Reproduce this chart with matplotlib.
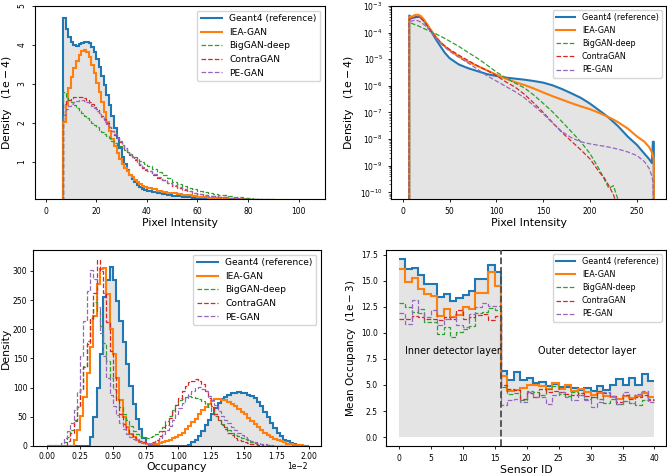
import numpy as np
import matplotlib
matplotlib.use('Agg')
from matplotlib import pyplot as plt
from matplotlib.lines import Line2D
from matplotlib.ticker import FuncFormatter

names = ['Geant4 (reference)', 'IEA-GAN', 'BigGAN-deep', 'ContraGAN', 'PE-GAN']

# ---- pixel intensity, linear (bins 7..40 width 1, then 40..100 width 2)
px_edges = np.r_[np.arange(7, 41), np.arange(42, 101, 2)]
px_geant = [4.69, 4.42, 4.21, 4.08, 4.00, 3.98, 4.02, 4.06, 4.08, 4.08, 4.04, 3.95, 3.82, 3.65, 3.44, 3.21, 2.97,
            2.72, 2.46, 2.17, 1.88, 1.61, 1.36, 1.14, 0.96, 0.80, 0.68, 0.57, 0.49, 0.42, 0.36, 0.32, 0.29,
            0.26, 0.23, 0.20, 0.175, 0.155, 0.135, 0.12, 0.105, 0.095, 0.085, 0.076, 0.068, 0.061, 0.055, 0.05,
            0.045, 0.041, 0.037, 0.033, 0.03, 0.027, 0.024, 0.021, 0.019, 0.017, 0.015, 0.013, 0.012, 0.011, 0.01]
px_iea = [2.02, 2.46, 2.89, 3.19, 3.40, 3.59, 3.74, 3.84, 3.88, 3.83, 3.70, 3.49, 3.27, 3.02, 2.79, 2.53, 2.29,
          2.04, 1.80, 1.60, 1.40, 1.23, 1.09, 0.96, 0.85, 0.76, 0.68, 0.61, 0.54, 0.49, 0.44, 0.40, 0.36,
          0.33, 0.30, 0.27, 0.245, 0.22, 0.20, 0.18, 0.16, 0.145, 0.13, 0.115, 0.10, 0.09, 0.08, 0.072,
          0.065, 0.058, 0.052, 0.047, 0.042, 0.038, 0.034, 0.03, 0.027, 0.024, 0.021, 0.019, 0.017, 0.015, 0.013]
px_big = [2.79, 2.68, 2.60, 2.53, 2.46, 2.39, 2.32, 2.25, 2.19, 2.13, 2.07, 2.01, 1.95, 1.89, 1.83, 1.77, 1.71,
          1.66, 1.61, 1.55, 1.50, 1.45, 1.40, 1.35, 1.30, 1.25, 1.21, 1.16, 1.12, 1.08, 1.04, 1.00, 0.96,
          0.90, 0.82, 0.74, 0.66, 0.58, 0.50, 0.43, 0.38, 0.34, 0.30, 0.27, 0.24, 0.21, 0.18, 0.16,
          0.145, 0.13, 0.115, 0.10, 0.085, 0.075, 0.065, 0.057, 0.05, 0.045, 0.04, 0.035, 0.03, 0.027, 0.024]
px_contra = [2.50, 2.56, 2.60, 2.63, 2.66, 2.68, 2.68, 2.67, 2.64, 2.60, 2.55, 2.49, 2.42, 2.36, 2.27, 2.19, 2.10,
             2.00, 1.90, 1.80, 1.70, 1.61, 1.52, 1.43, 1.35, 1.27, 1.19, 1.12, 1.05, 0.98, 0.92, 0.86, 0.81,
             0.76, 0.68, 0.60, 0.53, 0.46, 0.40, 0.34, 0.29, 0.25, 0.21, 0.18, 0.155, 0.135, 0.12, 0.105,
             0.095, 0.085, 0.075, 0.065, 0.057, 0.05, 0.045, 0.04, 0.035, 0.03, 0.027, 0.024, 0.021, 0.019, 0.017]
px_pe = [2.20, 2.35, 2.44, 2.50, 2.54, 2.57, 2.58, 2.58, 2.56, 2.53, 2.49, 2.44, 2.38, 2.31, 2.24, 2.16, 2.07,
         1.98, 1.89, 1.80, 1.71, 1.62, 1.53, 1.45, 1.37, 1.29, 1.21, 1.14, 1.07, 1.00, 0.94, 0.88, 0.82,
         0.77, 0.69, 0.61, 0.54, 0.47, 0.41, 0.35, 0.30, 0.26, 0.22, 0.19, 0.16, 0.14, 0.125, 0.11,
         0.098, 0.087, 0.077, 0.068, 0.06, 0.053, 0.047, 0.042, 0.037, 0.033, 0.029, 0.026, 0.023, 0.02, 0.018]

# ---- pixel intensity, log scale (log10 of density)
lx = [7, 10, 13, 16, 19, 22, 26, 30, 35, 40, 45, 50, 60, 70, 80, 90, 100, 110, 120, 130,
      140, 150, 160, 170, 180, 190, 200, 205, 210, 215, 220, 225, 230, 240, 250, 258, 263, 266, 267, 268]
log_geant = [-3.36, -3.45, -3.43, -3.40, -3.42, -3.52, -3.72, -3.93, -4.23, -4.50,
             -4.76, -4.96, -5.20, -5.34, -5.45, -5.56, -5.63, -5.69, -5.73, -5.77,
             -5.82, -5.88, -5.98, -6.12, -6.28, -6.45, -6.67, -6.80, -6.93, -7.06,
             -7.20, -7.36, -7.52, -7.90, -8.22, -8.55, -8.75, -8.90, -8.10, -8.10]
log_iea = [-3.42, -3.40, -3.34, -3.33, -3.37, -3.48, -3.68, -3.90, -4.14, -4.36,
           -4.52, -4.66, -4.90, -5.10, -5.26, -5.42, -5.58, -5.73, -5.86, -5.97,
           -6.10, -6.25, -6.39, -6.52, -6.65, -6.77, -6.88, -6.95, -7.02, -7.10,
           -7.18, -7.27, -7.37, -7.60, -7.90, -8.10, -8.30, -8.50, -8.60, -8.80]
log_big = [-3.62, -3.66, -3.70, -3.74, -3.79, -3.84, -3.90, -3.96, -4.04, -4.13,
           -4.22, -4.32, -4.52, -4.75, -4.97, -5.22, -5.48, -5.70, -5.90, -6.08,
           -6.35, -6.66, -6.98, -7.35, -7.72, -8.10, -8.55, -8.85, -9.15, -9.50,
           -9.85, -9.75, -10.3, -11.5, -12, -12, -12, -12, -12, -12]
log_contra = [-3.50, -3.47, -3.42, -3.42, -3.45, -3.55, -3.73, -3.93, -4.15, -4.35,
              -4.50, -4.63, -4.85, -5.05, -5.25, -5.42, -5.62, -5.85, -6.05, -6.32,
              -6.65, -7.00, -7.38, -7.75, -8.08, -8.40, -8.75, -9.00, -9.25, -9.45,
              -9.75, -10.1, -10.6, -12, -12, -12, -12, -12, -12, -12]
log_pe = [-3.58, -3.56, -3.54, -3.55, -3.60, -3.68, -3.80, -3.97, -4.18, -4.38,
          -4.55, -4.70, -4.93, -5.15, -5.38, -5.62, -5.82, -6.02, -6.22, -6.45,
          -6.75, -7.05, -7.40, -7.72, -7.95, -8.10, -8.18, -8.21, -8.24, -8.27,
          -8.30, -8.34, -8.38, -8.48, -8.62, -8.85, -9.10, -9.40, -9.60, -11]

# ---- occupancy histograms, 80 bins over [0, 0.02]
occ_edges = np.linspace(0, 0.02, 81)
occ_geant = [0, 0, 0, 0, 0, 0, 0, 0, 0, 0,
             0, 0, 0, 16, 50, 100, 158, 255, 285, 306,
             285, 248, 215, 178, 140, 103, 72, 47, 29, 14,
             4, 1, 0, 0, 0, 0, 0, 0, 0, 0,
             0, 0, 0, 2, 6, 10, 17, 26, 36, 45,
             55, 65, 73, 80, 84, 88, 90, 90, 92, 91,
             91, 88, 86, 82, 76, 68, 59, 49, 39, 31,
             23, 17, 11, 8, 5, 3, 1, 0, 0, 0]
occ_iea = [0, 0, 0, 0, 0, 0, 0, 0, 10, 27,
           52, 84, 125, 170, 222, 278, 304, 305, 260, 200,
           158, 117, 78, 50, 32, 21, 15, 10, 7, 5,
           3, 3, 3, 4, 5, 7, 9, 11, 14, 16,
           19, 23, 29, 35, 41, 47, 55, 61, 67, 72,
           77, 81, 80, 79, 78, 75, 72, 68, 63, 58,
           54, 48, 42, 37, 32, 27, 23, 19, 15, 12,
           10, 8, 6, 4, 3, 2, 1, 1, 0, 0]
occ_big = [0, 0, 0, 0, 0, 6, 15, 28, 45, 68,
           97, 137, 180, 218, 246, 232, 205, 176, 145, 116,
           98, 81, 66, 55, 45, 35, 26, 20, 17, 15,
           14, 15, 17, 20, 26, 33, 42, 52, 62, 70,
           78, 81, 84, 85, 84, 82, 80, 77, 72, 67,
           60, 52, 44, 38, 32, 27, 23, 19, 17, 14,
           12, 10, 7, 5, 4, 3, 2, 1, 0, 0,
           0, 0, 0, 0, 0, 0, 0, 0, 0, 0]
occ_contra = [0, 0, 0, 0, 0, 0, 8, 22, 42, 66,
              98, 136, 175, 220, 262, 318, 300, 262, 213, 162,
              118, 78, 55, 38, 28, 20, 15, 11, 8, 6,
              4, 4, 6, 10, 17, 26, 36, 48, 58, 70,
              82, 94, 103, 110, 112, 115, 112, 106, 95, 82,
              68, 55, 45, 36, 29, 23, 18, 14, 11, 9,
              7, 5, 4, 3, 2, 1, 0, 0, 0, 0,
              0, 0, 0, 0, 0, 0, 0, 0, 0, 0]
occ_pe = [0, 0, 0, 0, 5, 13, 25, 40, 62, 92,
          155, 215, 265, 302, 286, 238, 193, 154, 116, 88,
          69, 53, 39, 29, 21, 16, 12, 9, 7, 5,
          4, 4, 5, 8, 13, 20, 27, 35, 45, 55,
          65, 74, 82, 89, 95, 99, 101, 98, 94, 86,
          78, 70, 60, 52, 45, 39, 32, 27, 23, 19,
          15, 12, 9, 7, 5, 4, 3, 2, 1, 0,
          0, 0, 0, 0, 0, 0, 0, 0, 0, 0]

# ---- mean occupancy per sensor (1e-3)
sensor_edges = np.arange(41)
sens_geant = [17.1, 16.15, 16.2, 15.55, 14.7, 14.7, 13.45, 13.7, 13.1, 13.3, 13.6, 14.0, 15.15, 15.15, 16.5, 15.85,
              6.3, 5.5, 6.25, 5.5, 5.65, 5.15, 5.3, 4.9, 5.05, 4.85, 4.85, 4.7, 4.5, 4.7, 4.4, 4.9, 4.55, 4.95,
              5.55, 5.0, 5.65, 5.0, 6.1, 5.4]
sens_iea = [16.15, 14.9, 15.25, 14.2, 13.7, 13.55, 11.6, 12.3, 11.5, 11.7, 12.5, 12.3, 13.8, 13.8, 15.8, 14.5,
            5.9, 4.4, 4.55, 4.75, 5.0, 4.95, 4.9, 4.6, 5.15, 4.65, 5.0, 4.4, 4.6, 4.3, 4.05, 4.2, 3.95, 3.85,
            3.65, 3.95, 3.75, 3.9, 4.2, 3.85]
sens_big = [12.85, 12.45, 12.0, 12.3, 11.0, 11.0, 9.9, 10.55, 9.65, 10.1, 10.4, 10.7, 11.9, 12.0, 12.4, 12.2,
            4.85, 4.1, 4.2, 3.55, 4.45, 4.3, 4.0, 4.6, 4.9, 4.1, 3.9, 4.3, 4.0, 3.7, 3.8, 3.65, 3.3, 3.7,
            3.2, 3.45, 3.3, 3.1, 3.6, 3.65]
sens_contra = [11.3, 11.35, 11.65, 11.5, 11.35, 11.35, 11.25, 11.55, 11.35, 12.15, 11.35, 11.5, 11.75, 11.85,
               11.2, 11.65, 5.0, 4.6, 4.5, 3.7, 4.2, 3.8, 4.6, 4.35, 4.45, 4.3, 4.1, 4.0, 4.2, 3.9, 3.85, 4.45,
               4.25, 3.9, 3.4, 4.0, 3.7, 3.85, 4.0, 3.55]
sens_pe = [11.9, 10.9, 13.15, 11.9, 11.5, 12.15, 10.8, 11.35, 11.55, 10.8, 10.6, 11.85, 12.45, 12.9, 12.6, 12.6,
           3.1, 3.6, 3.7, 3.4, 4.3, 3.8, 3.8, 3.2, 4.0, 4.3, 3.85, 3.6, 4.05, 3.6, 2.9, 3.4, 4.3, 3.9, 3.2,
           4.35, 3.3, 4.1, 4.4, 3.4]

colors = ['C0', 'C1', 'C2', 'C3', 'C4']
styles = ['-', '-', '--', '--', '--']
widths = [1.5, 1.5, 0.9, 0.9, 0.9]
fill_color = '#e4e4e4'


def legend_handles():
    return [Line2D([], [], color=c, ls=s, lw=w) for c, s, w in zip(colors, styles, widths)]


def draw_stairs(ax, series, edges, baseline=0):
    ax.stairs(series[0], edges, fill=True, color=fill_color, zorder=1)
    for vals, c, s, w in zip(series, colors, styles, widths):
        ax.stairs(vals, edges, color=c, ls=s, lw=w, baseline=baseline, zorder=2)


fig = plt.figure(figsize=(6.67, 4.74), dpi=100)

# top left
ax1 = fig.add_axes([0.0525, 0.5802, 0.4348, 0.4072])
draw_stairs(ax1, [px_geant, px_iea, px_big, px_contra, px_pe], px_edges)
ax1.set_xlim(-4.2, 110.4)
ax1.set_ylim(0.055, 5)
ax1.set_xticks(np.arange(0, 101, 20))
ax1.set_yticks([1, 2, 3, 4, 5])
ax1.tick_params(labelsize=5.5, length=2.5, width=0.6)
for lab in ax1.get_yticklabels():
    lab.set_rotation(90)
    lab.set_va('center')
ax1.set_xlabel('Pixel Intensity', fontsize=7.8, labelpad=1)
ax1.set_ylabel(r'Density   $(\mathrm{1e}-4)$', fontsize=7.8, labelpad=3)
ax1.legend(legend_handles(), names, loc='upper right', fontsize=6.6, handlelength=2.3)

# top right
ax2 = fig.add_axes([0.5862, 0.5802, 0.4123, 0.4072])
x_tr = np.r_[lx[0], lx, lx[-1]]
for i, (lv, c, s, w) in enumerate(zip([log_geant, log_iea, log_big, log_contra, log_pe], colors, styles, widths)):
    y = np.r_[1e-15, 10.0 ** np.array(lv), 1e-15]
    if i == 0:
        ax2.fill_between(x_tr, y, 1e-15, color=fill_color, lw=0, zorder=1)
    ax2.plot(x_tr, y, color=c, ls=s, lw=w, zorder=2)
ax2.set_yscale('log')
ax2.set_xlim(-12.5, 281)
ax2.set_ylim(10 ** -10.25, 1e-3)
ax2.set_xticks(np.arange(0, 251, 50))
ax2.tick_params(labelsize=5.5, length=2.5, width=0.6)
ax2.tick_params(which='minor', length=1.5, width=0.4)
ax2.set_xlabel('Pixel Intensity', fontsize=7.8, labelpad=1)
ax2.set_ylabel(r'Density   $(\mathrm{1e}-4)$', fontsize=7.8, labelpad=3)
ax2.legend(legend_handles(), names, loc='upper right', fontsize=5.8, handlelength=2.4)

# bottom left
ax3 = fig.add_axes([0.0495, 0.0591, 0.4318, 0.4135])
draw_stairs(ax3, [occ_geant, occ_iea, occ_big, occ_contra, occ_pe], occ_edges)
ax3.set_xlim(-0.0011, 0.0209)
ax3.set_ylim(0, 336)
ax3.set_xticks(np.arange(0, 0.02001, 0.0025))
ax3.xaxis.set_major_formatter(FuncFormatter(lambda v, pos: '%.2f' % (v * 100)))
ax3.text(0.955, -0.104, '1e\u22122', transform=ax3.transAxes, ha='right', va='center', fontsize=5.5)
ax3.tick_params(labelsize=5.5, length=2.5, width=0.6, pad=1.5)
ax3.set_xlabel('Occupancy', fontsize=7.8, labelpad=1)
ax3.set_ylabel('Density', fontsize=7.8)
ax3.yaxis.set_label_coords(-0.078, 0.5)
ax3.legend(legend_handles(), names, loc='upper right', fontsize=6.6, handlelength=2.3)

# bottom right
ax4 = fig.add_axes([0.5787, 0.0591, 0.4198, 0.4135])
draw_stairs(ax4, [sens_geant, sens_iea, sens_big, sens_contra, sens_pe], sensor_edges, baseline=None)
ax4.axvline(16, color='0.3', ls='--', lw=1.3, zorder=3)
ax4.set_xlim(-2, 41.8)
ax4.set_ylim(-0.855, 17.955)
ax4.set_xticks(np.arange(0, 41, 5))
ax4.set_yticks(np.arange(0, 17.6, 2.5))
ax4.tick_params(labelsize=5.5, length=2.5, width=0.6)
ax4.text(8.45, 8.27, 'Inner detector layer', ha='center', va='center', fontsize=6.9)
ax4.text(29.5, 8.27, 'Outer detector layer', ha='center', va='center', fontsize=6.9)
ax4.set_xlabel('Sensor ID', fontsize=7.8, labelpad=1)
ax4.set_ylabel(r'Mean Occupancy  $(\mathrm{1e}-3)$', fontsize=7.5, labelpad=2)
ax4.legend(legend_handles(), names, loc='upper right', fontsize=5.8, handlelength=2.4)

fig.savefig('out.png', dpi=100)
